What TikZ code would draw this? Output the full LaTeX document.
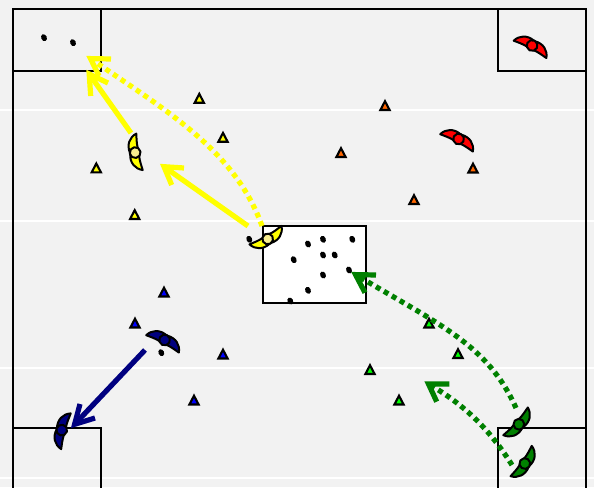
\documentclass[tikz,border=0pt]{standalone}
\usetikzlibrary{arrows.meta}
\definecolor{pitch}{HTML}{F2F2F2}
\definecolor{navyp}{HTML}{000080}
\definecolor{greenp}{HTML}{008000}
\definecolor{orangep}{HTML}{FF6600}
\definecolor{headY}{HTML}{F7EE8E}
\definecolor{yellowp}{HTML}{FFFF00}
\definecolor{limep}{HTML}{00FF00}
\definecolor{bluep}{HTML}{0000FF}
\definecolor{redp}{HTML}{FF0000}
\tikzset{
  x=1pt,y=-1pt,
  frame/.style={draw=black,line width=2pt},
  stripe/.style={draw=white,line width=1.1pt},
  marker/.style={draw=black,line width=2.1pt,line join=miter},
  ball/.style={fill=black},
  run/.style={line width=5.2pt},
  barb/.style={line width=5.2pt,line join=miter,miter limit=10},
  dots/.style={run,dash pattern=on 5pt off 4.2pt},
  plr/.style={draw=black,line width=2pt,line join=round},
}
\newcommand{\mkcone}[3]{\draw[marker,fill=#1] (#2-4.6,#3+4) -- (#2,#3-4.8) -- (#2+4.6,#3+4) -- cycle;}
\newcommand{\balldot}[2]{\fill[ball,rotate around={25:(#1,#2)}] (#1,#2) ellipse (2.8pt and 3.6pt);}
\newcommand{\plrshape}[5]{% x y rot petal head
  \begin{scope}[shift={(#1,#2)},rotate=#3]
    \draw[plr,fill=#4] (0.5,-8.5) .. controls (9,-10.5) and (16,-6.5) .. (18.5,1) .. controls (14,0.5) and (9,-0.5) .. (3,0) -- cycle;
    \draw[plr,fill=#4] (-0.5,-8.5) .. controls (-9,-10.5) and (-16,-6.5) .. (-18.5,1) .. controls (-14,0.5) and (-9,-0.5) .. (-3,0) -- cycle;
    \draw[plr,fill=#5] (0,-3.4) circle (5.4pt);
  \end{scope}}
\begin{document}
\begin{tikzpicture}
\useasboundingbox (0,0) rectangle (594,487);
\fill[pitch] (0,0) rectangle (594,487);
\foreach \yy in {110,221,368,478} \draw[stripe] (0,\yy) -- (594,\yy);
\draw[frame] (13,520) -- (13,9.5) -- (586,9.5) -- (586,520);
\draw[frame] (13,71) -- (101,71) -- (101,9.5);
\draw[frame] (498,9.5) -- (498,71) -- (586,71);
\draw[frame] (13,427.5) -- (101,427.5) -- (101,520);
\draw[frame] (498,520) -- (498,428) -- (586,428);
\draw[frame,fill=white] (262.7,225.7) rectangle (365.7,303.3);

\foreach \p/\q in {44/37.7,73/42.7,249.3/239.3,308/244,323/239.3,352.3/239.3,293.7/259.7,323/255,334.7/255,349/270,323/275,308/290.3,290.3/301,161.3/352.7} {\balldot{\p}{\q}}

\mkcone{yellowp}{199.3}{98.7}\mkcone{yellowp}{223}{137.7}\mkcone{yellowp}{96.3}{168.3}\mkcone{yellowp}{134.7}{215}
\mkcone{orangep}{385}{106}\mkcone{orangep}{341}{153}\mkcone{orangep}{473}{168.5}\mkcone{orangep}{414}{200}
\mkcone{bluep}{164}{292.5}\mkcone{bluep}{135}{323.5}\mkcone{bluep}{223}{354.5}\mkcone{bluep}{194}{400.5}
\mkcone{limep}{429}{323.5}\mkcone{limep}{458}{354}\mkcone{limep}{370}{370}\mkcone{limep}{399}{400.5}

\coordinate (yA) at (131,133);
\coordinate (yAt) at (89.2,74);
\coordinate (yB) at (248,226);
\coordinate (yBt) at (164,166.7);
\coordinate (yC) at (262,226);
\coordinate (yCt) at (90.5,58.6);
\coordinate (bA) at (145,350);
\coordinate (bAt) at (74.6,424.3);
\coordinate (gA) at (516,408);
\coordinate (gAt) at (355.5,274.6);
\coordinate (gB) at (512,465);
\coordinate (gBt) at (428.5,384);

\draw[run,yellowp] (yA) -- (yAt);
\draw[barb,yellowp] (90.7,96) -- (yAt) -- (108,83);
\draw[run,yellowp] (yB) -- (yBt);
\draw[barb,yellowp] (184,168) -- (yBt) -- (171.7,185);
\draw[dots,yellowp] (yC) .. controls (235,150) and (165,110) .. (yCt);
\draw[barb,yellowp] (111,59) -- (yCt) -- (99,76);
\draw[run,navyp] (bA) -- (bAt);
\draw[barb,navyp] (80,404) -- (bAt) -- (95,418);
\draw[dots,greenp] (gA) .. controls (488,345) and (440,325) .. (gAt);
\draw[barb,greenp] (376,275) -- (gAt) -- (365,292.7);
\draw[dots,greenp] (gB) .. controls (490,430) and (465,405) .. (gBt);
\draw[barb,greenp] (449.3,384) -- (gBt) -- (436.7,401.7);

\plrshape{457}{142}{-28}{redp}{redp}
\plrshape{530.5}{48.5}{-28}{redp}{redp}
\plrshape{138.5}{152}{100}{yellowp}{headY}
\plrshape{266}{236}{-150}{yellowp}{headY}
\plrshape{163}{343}{-28}{navyp}{navyp}
\plrshape{65}{431}{75}{navyp}{navyp}
\plrshape{516.3}{422}{228.5}{greenp}{greenp}
\plrshape{522}{461.6}{235}{greenp}{greenp}
\end{tikzpicture}
\end{document}
